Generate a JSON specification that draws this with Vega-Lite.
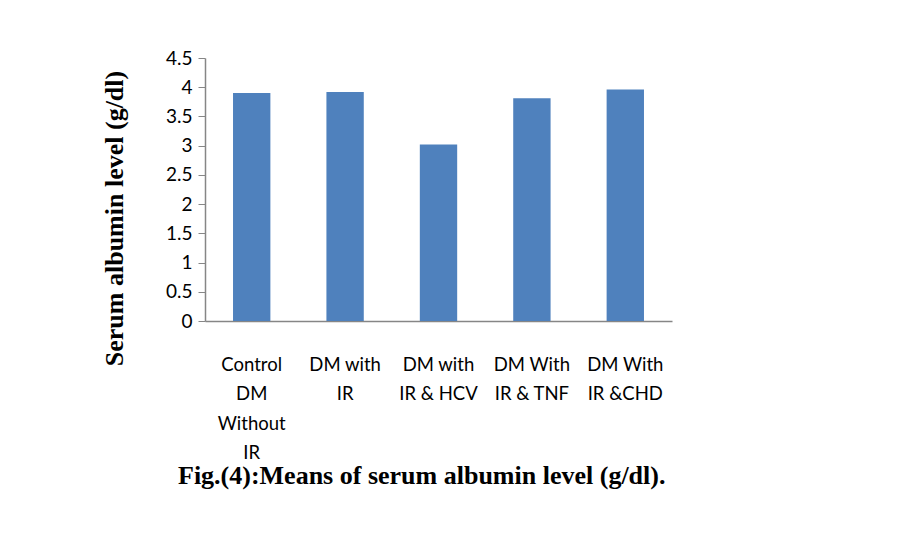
{
  "$schema": "https://vega.github.io/schema/vega-lite/v6.json",
  "width": 467,
  "height": 263,
  "autosize": {"type": "none"},
  "padding": {"left": 205, "top": 58, "right": 227, "bottom": 236},
  "background": "white",
  "title": {
    "text": "Fig.(4):Means of serum albumin level (g/dl).",
    "orient": "bottom",
    "anchor": "start",
    "frame": "group",
    "dx": -27,
    "offset": 1,
    "font": "Liberation Serif",
    "fontSize": 26,
    "fontWeight": "bold",
    "color": "black"
  },
  "data": {
    "values": [
      {"group": "Control|DM|Without|IR", "value": 3.9},
      {"group": "DM with|IR", "value": 3.92},
      {"group": "DM with|IR & HCV", "value": 3.02},
      {"group": "DM With|IR & TNF", "value": 3.81},
      {"group": "DM With|IR &CHD", "value": 3.96}
    ]
  },
  "mark": {"type": "bar", "color": "#4F81BD"},
  "encoding": {
    "x": {
      "field": "group",
      "type": "nominal",
      "sort": null,
      "scale": {"paddingInner": 0.6, "paddingOuter": 0.3},
      "axis": {
        "title": null,
        "labelAngle": 0,
        "labelExpr": "split(datum.label, '|')",
        "labelFont": "Lato",
        "labelFontSize": 18.5,
        "labelLineHeight": 29.5,
        "labelColor": "black",
        "labelPadding": 34,
        "labelLimit": 200,
        "ticks": false,
        "domainColor": "#868686",
        "domainWidth": 1.5
      }
    },
    "y": {
      "field": "value",
      "type": "quantitative",
      "scale": {"domain": [0, 4.5], "nice": false},
      "axis": {
        "title": "Serum albumin level (g/dl)",
        "titleFont": "Liberation Serif",
        "titleFontSize": 26,
        "titleFontWeight": "bold",
        "titleColor": "black",
        "titleY": 160,
        "titlePadding": 38,
        "values": [0, 0.5, 1, 1.5, 2, 2.5, 3, 3.5, 4, 4.5],
        "format": "~g",
        "labelFont": "Lato",
        "labelFontSize": 19,
        "labelColor": "black",
        "labelPadding": 6,
        "grid": false,
        "tickColor": "#868686",
        "tickSize": 7,
        "domainColor": "#868686",
        "domainWidth": 1.5
      }
    }
  },
  "config": {"view": {"stroke": null}}
}
